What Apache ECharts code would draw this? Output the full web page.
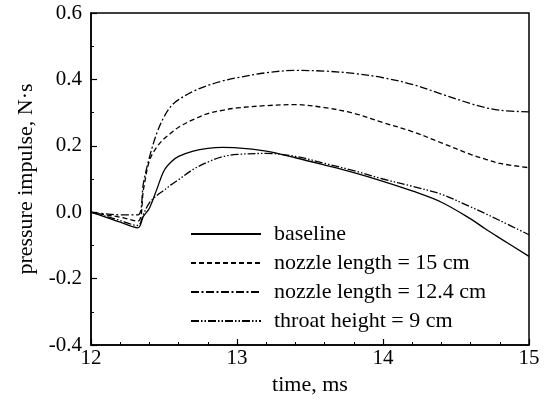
<!DOCTYPE html>
<html><head><meta charset="utf-8">
<script src="https://cdn.jsdelivr.net/npm/echarts@6/dist/echarts.min.js"></script>
<style>html,body{margin:0;padding:0;background:#fff}#c{width:550px;height:403px}</style>
</head><body><div id="c"></div>
<script>
const time = [12.0, 12.1, 12.2, 12.32, 12.36, 12.4, 12.45, 12.5, 12.55, 12.6, 12.7, 12.8, 12.9, 13.0, 13.2, 13.4, 13.6, 13.8, 14.0, 14.2, 14.4, 14.6, 14.7, 14.8, 15.0];
const baseline = [0, -0.015, -0.03, -0.047, -0.012, 0.012, 0.068, 0.125, 0.152, 0.168, 0.184, 0.192, 0.195, 0.194, 0.184, 0.164, 0.142, 0.119, 0.093, 0.064, 0.03, -0.02, -0.05, -0.078, -0.133];
const nozzle15 = [0, -0.008, -0.015, -0.027, 0.07, 0.155, 0.196, 0.221, 0.239, 0.256, 0.279, 0.297, 0.307, 0.314, 0.321, 0.324, 0.315, 0.298, 0.27, 0.243, 0.209, 0.174, 0.16, 0.147, 0.134];
const nozzle124 = [0, -0.005, -0.008, -0.008, 0.09, 0.165, 0.237, 0.287, 0.32, 0.339, 0.364, 0.382, 0.395, 0.405, 0.42, 0.427, 0.425, 0.418, 0.405, 0.385, 0.356, 0.327, 0.315, 0.307, 0.302];
const throat9 = [0, -0.012, -0.025, -0.04, -0.005, 0.028, 0.05, 0.066, 0.083, 0.098, 0.129, 0.151, 0.167, 0.174, 0.177, 0.168, 0.147, 0.125, 0.1, 0.078, 0.054, 0.016, -0.004, -0.025, -0.068];
const names = ['baseline', 'nozzle length = 15 cm', 'nozzle length = 12.4 cm', 'throat height = 9 cm'];

const pairs = arr => time.map((t, i) => [t, arr[i]]);
const font = 'Liberation Serif';
const dashes = ['solid', [5, 3], [8, 2.5, 2, 2.5], [8, 2, 1.5, 2, 1.5, 2]];
const seriesData = [baseline, nozzle15, nozzle124, throat9];

const chart = echarts.init(document.getElementById('c'), null, {renderer: 'canvas'});
chart.setOption({
  animation: false,
  backgroundColor: '#fff',
  grid: {left: 91, right: 21, top: 13, bottom: 58, show: true, borderColor: '#000', borderWidth: 1.5, backgroundColor: 'transparent'},
  legend: {
    orient: 'vertical', left: 185, top: 218,
    itemWidth: 70, itemHeight: 14, itemGap: 7,
    itemStyle: {opacity: 0},
    textStyle: {fontFamily: font, fontSize: 22, color: '#000', padding: [0, 0, 0, 8]},
    data: names
  },
  xAxis: {
    type: 'value', min: 12, max: 15, interval: 1,
    name: 'time, ms', nameLocation: 'middle', nameGap: 29,
    nameTextStyle: {fontFamily: font, fontSize: 22, color: '#000'},
    axisLine: {show: true, onZero: false, lineStyle: {color: '#000', width: 1.5}},
    axisTick: {show: true, inside: true, length: 6, lineStyle: {color: '#000', width: 1.2}},
    minorTick: {show: true, splitNumber: 5, length: 3, lineStyle: {color: '#000', width: 1}},
    axisLabel: {fontFamily: font, fontSize: 21, color: '#000', margin: 3},
    splitLine: {show: false}
  },
  yAxis: {
    type: 'value', min: -0.4, max: 0.6, interval: 0.2,
    name: 'pressure impulse, N·s', nameLocation: 'middle', nameGap: 54,
    nameTextStyle: {fontFamily: font, fontSize: 22, color: '#000'},
    axisLine: {show: true, onZero: false, lineStyle: {color: '#000', width: 1.5}},
    axisTick: {show: true, inside: true, length: 6, lineStyle: {color: '#000', width: 1.2}},
    minorTick: {show: true, splitNumber: 2, length: 3, lineStyle: {color: '#000', width: 1}},
    axisLabel: {fontFamily: font, fontSize: 21, color: '#000', margin: 9, formatter: v => v.toFixed(1)},
    splitLine: {show: false}
  },
  series: seriesData.map((d, i) => ({
    name: names[i], type: 'line', data: pairs(d), symbol: 'none', smooth: 0.35,
    lineStyle: {color: '#000', width: 1.3, type: dashes[i]},
    itemStyle: {color: '#000'}
  }))
});
</script></body></html>
